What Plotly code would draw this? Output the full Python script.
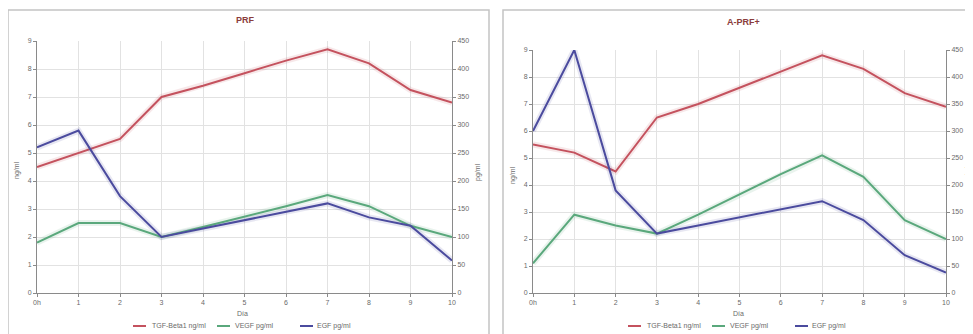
import plotly.graph_objects as go

# page is drawn with the browser's 8px body margin, so the figure is sized to fill the rest
OFF = 8
W, H = 973 - OFF, 334 - OFF

days = ["0h", "1", "2", "3", "4", "5", "6", "7", "8", "9", "10"]

# PRF panel
prf_tgf = [4.5, 5.0, 5.5, 7.0, 7.4, 7.85, 8.3, 8.7, 8.2, 7.25, 6.8]          # ng/ml
prf_vegf = [90, 125, 125, 100, 118, 136, 155, 175, 155, 120, 100]           # pg/ml
prf_egf = [260, 290, 173, 100, 115, 130, 145, 160, 135, 120, 58]            # pg/ml

# A-PRF+ panel
aprf_tgf = [5.5, 5.2, 4.5, 6.5, 7.0, 7.6, 8.2, 8.8, 8.3, 7.4, 6.9]          # ng/ml
aprf_vegf = [55, 145, 125, 110, 145, 182, 220, 255, 215, 135, 100]          # pg/ml
aprf_egf = [300, 450, 190, 110, 125, 140, 155, 170, 135, 70, 38]            # pg/ml

titles = ["PRF", "A-PRF+"]
series_names = ["TGF-Beta1 ng/ml", "VEGF pg/ml", "EGF pg/ml"]
xtitle = "Día"
ytitle_left = "ng/ml"
ytitle_right = "pg/ml"

RED = "#c4525e"
GREEN = "#5aa87c"
BLUE = "#4b4b9e"
COLORS = [RED, GREEN, BLUE]

fig = go.Figure()


def px(v):
    return (v - OFF) / W


def py(v):
    return 1 - (v - OFF) / H


panels = [
    dict(tgf=prf_tgf, vegf=prf_vegf, egf=prf_egf, xa="x", ya="y", ya2="y2",
         xd=[px(37), px(452)], yd=[py(293), py(41)], dx=0),
    dict(tgf=aprf_tgf, vegf=aprf_vegf, egf=aprf_egf, xa="x2", ya="y3", ya2="y4",
         xd=[px(533), px(946)], yd=[py(293), py(50)], dx=495),
]

for p in panels:
    specs = [(p["tgf"], p["ya"], RED, series_names[0]),
             (p["vegf"], p["ya2"], GREEN, series_names[1]),
             (p["egf"], p["ya2"], BLUE, series_names[2])]
    for vals, ya, col, name in specs:
        fig.add_trace(go.Scatter(x=days, y=vals, xaxis=p["xa"], yaxis=ya, mode="lines",
                                 line=dict(color=col, width=6), opacity=0.13,
                                 showlegend=False, hoverinfo="skip"))
    for vals, ya, col, name in specs:
        fig.add_trace(go.Scatter(x=days, y=vals, xaxis=p["xa"], yaxis=ya, mode="lines",
                                 line=dict(color=col, width=2), name=name, showlegend=False))

tickfont = dict(family="Liberation Sans, Arial", size=7, color="#6a6a6a")
grid = "#e2e2e2"
axline = "#8a8a8a"


def xaxis(domain, anchor):
    return dict(domain=domain, anchor=anchor, type="category", range=[0, 10],
                showgrid=True, gridcolor=grid, gridwidth=1,
                showline=True, linecolor=axline, linewidth=1,
                ticks="outside", ticklen=3, tickcolor=axline,
                tickfont=tickfont, zeroline=False, fixedrange=True, automargin=False)


def yleft(domain, anchor):
    return dict(domain=domain, anchor=anchor, range=[0, 9], dtick=1,
                showgrid=True, gridcolor=grid, gridwidth=1,
                showline=True, linecolor=axline, linewidth=1,
                ticks="outside", ticklen=3, tickcolor=axline,
                tickfont=tickfont, zeroline=False, fixedrange=True, automargin=False)


def yright(overlay, anchor):
    return dict(overlaying=overlay, anchor=anchor, side="right", range=[0, 450], dtick=50,
                showgrid=False, showline=True, linecolor=axline, linewidth=1,
                ticks="outside", ticklen=3, tickcolor=axline,
                tickfont=tickfont, zeroline=False, fixedrange=True, automargin=False)


fig.update_layout(
    width=W, height=H, autosize=False,
    margin=dict(l=0, r=0, t=0, b=0, pad=0),
    paper_bgcolor="white", plot_bgcolor="white",
    xaxis=xaxis(panels[0]["xd"], "y"),
    yaxis=yleft(panels[0]["yd"], "x"),
    yaxis2=yright("y", "x"),
    xaxis2=xaxis(panels[1]["xd"], "y3"),
    yaxis3=yleft(panels[1]["yd"], "x2"),
    yaxis4=yright("y3", "x2"),
    showlegend=False,
)

# panel frames
fig.add_shape(type="rect", xref="paper", yref="paper", x0=px(8), x1=px(489), y0=py(345), y1=py(10),
              line=dict(color="#c4c4c4", width=1.5), layer="below")
fig.add_shape(type="rect", xref="paper", yref="paper", x0=px(503), x1=px(990), y0=py(345), y1=py(10),
              line=dict(color="#c4c4c4", width=1.5), layer="below")

ann = []
titlefont = dict(family="Liberation Sans, Arial", size=9, color="#8a3c3c")
for xx, yy, t in [(245, 20, titles[0]), (743, 22, titles[1])]:
    ann.append(dict(text="<b>%s</b>" % t, x=px(xx), y=py(yy), xref="paper", yref="paper",
                    xanchor="center", yanchor="middle", showarrow=False, font=titlefont))
labfont = dict(family="Liberation Sans, Arial", size=7, color="#6a6a6a")
for xx, yy, t in [(17, 170, ytitle_left), (478, 172, ytitle_right),
                  (513, 175, ytitle_left), (968, 175, ytitle_right)]:
    ann.append(dict(text=t, x=px(xx), y=py(yy), xref="paper", yref="paper", showarrow=False,
                    xanchor="center", yanchor="middle", textangle=-90, font=labfont))
for xx in (242, 738):
    ann.append(dict(text=xtitle, x=px(xx), y=py(313), xref="paper", yref="paper", showarrow=False,
                    xanchor="center", yanchor="middle", font=labfont))

# legends (one per panel)
leg_marker_x = [133, 217, 300]
leg_text_x = [150, 233, 315]
LEG_Y = 326
for p in panels:
    for i, name in enumerate(series_names):
        mx = leg_marker_x[i] + p["dx"]
        fig.add_shape(type="line", xref="paper", yref="paper",
                      x0=px(mx), x1=px(mx + 13), y0=py(LEG_Y), y1=py(LEG_Y),
                      line=dict(color=COLORS[i], width=2))
        ann.append(dict(text=name, x=px(leg_text_x[i] + p["dx"]), y=py(LEG_Y), xref="paper",
                        yref="paper", xanchor="left", yanchor="middle", showarrow=False,
                        font=labfont))
fig.update_layout(annotations=ann)

fig.write_html("out.html")
